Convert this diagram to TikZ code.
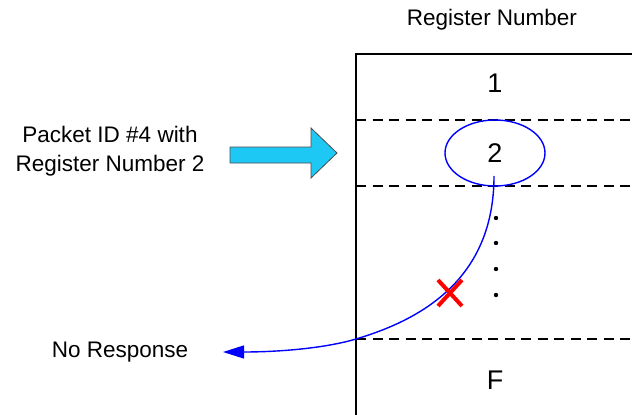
\documentclass[tikz,border=0pt]{standalone}
\usepackage{fontspec}
\setmainfont{Liberation Sans}
\usetikzlibrary{arrows.meta,shapes.geometric}
\definecolor{arrowcyan}{RGB}{30,200,245}
\definecolor{lineblue}{RGB}{0,0,255}
\definecolor{xred}{RGB}{255,0,0}
\begin{document}
\begin{tikzpicture}[x=1pt,y=-1pt,
  lbl/.style={inner sep=0pt,font=\fontsize{22.5}{29}\selectfont,align=center},
  num/.style={inner sep=0pt,font=\fontsize{27}{30}\selectfont},
  boxline/.style={line width=1.4pt,black},
  sepline/.style={line width=1.4pt,black,dash pattern=on 10pt off 6.5pt},
  blockarrow/.style={fill=arrowcyan,draw=black!70,line width=0.8pt,line join=miter},
  flow/.style={lineblue,line width=1.4pt,-{Triangle[length=21pt,width=13pt]}},
  dotstyle/.style={circle,fill=black,inner sep=0pt,minimum size=4.4pt}]
\useasboundingbox (0,0) rectangle (632,415);
% box
\draw[boxline] (356,415) -- (356,54) -- (632,54);
\draw[sepline] (356,120) -- (632,120);
\draw[sepline] (356,186) -- (632,186);
\draw[sepline] (356,339) -- (632,339);
% texts
\node[lbl] (head) at (492,20) {Register Number};
\node[num] (r1) at (495,83) {1};
\node[draw=lineblue,line width=1.4pt,ellipse,minimum width=100pt,minimum height=66pt,inner sep=0pt,font=\fontsize{27}{30}\selectfont] (ell) at (495,153) {2};
\node[num] (rF) at (495,380) {F};
\node[lbl] (packet) at (110,151) {Packet ID \#4 with\\Register Number 2};
\node[lbl] (noresp) at (120,352) {No Response};
% dots
\node[dotstyle] (d1) at (496,218) {};
\node[dotstyle] (d2) at (496,243) {};
\node[dotstyle] (d3) at (496,269) {};
\node[dotstyle] (d4) at (496,295) {};
% block arrow
\draw[blockarrow] (230,147) -- (311,147) -- (311,128) -- (337,153) -- (311,178) -- (311,163) -- (230,163) -- cycle;
% flow curve
\coordinate (start) at (494,176);
\coordinate (edge) at (356,339);
\coordinate (tip) at (223,352);
\draw[flow] (start) .. controls (494,280) and (420,320) .. (edge)
  .. controls (326,348) and (280,352) .. (tip);
% red cross
\coordinate (xc) at (450,293);
\draw[xred,line width=4pt] ([shift={(-12,-13)}]xc) -- ([shift={(12,13)}]xc);
\draw[xred,line width=4pt] ([shift={(12,-13)}]xc) -- ([shift={(-12,13)}]xc);
\end{tikzpicture}
\end{document}
